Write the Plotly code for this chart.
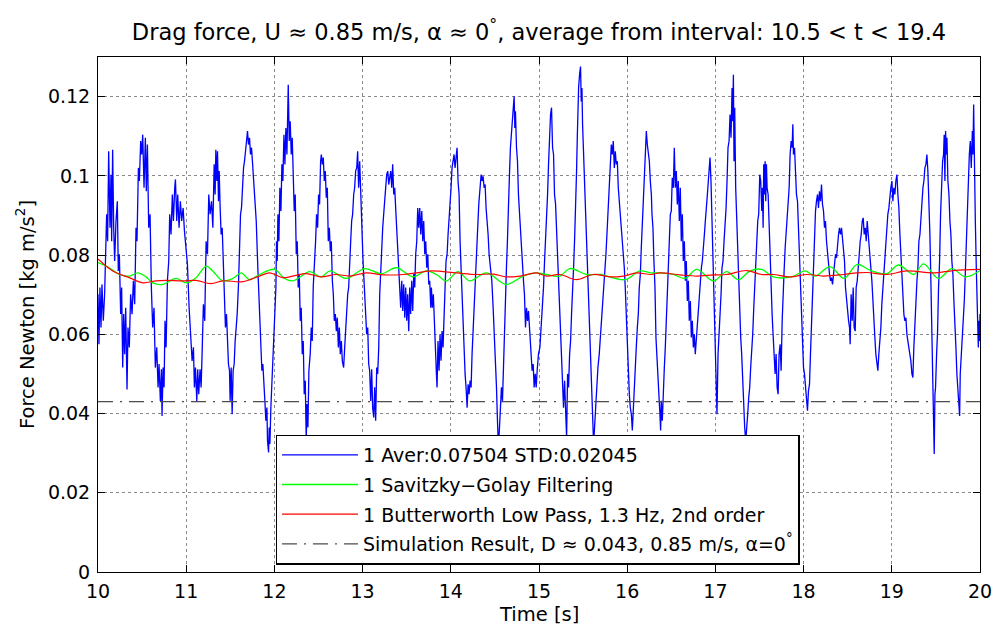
import plotly.graph_objects as go

# Measured drag force, sampled signal (time [s], force [N]) in consecutive windows
SEG_10_11 = [
    (10.000, 0.0701), (10.011, 0.0575), (10.022, 0.0718), (10.034, 0.0617), (10.045, 0.0726),
    (10.060, 0.0634), (10.075, 0.0701), (10.091, 0.0877), (10.098, 0.0903), (10.109, 0.0835),
    (10.121, 0.1062), (10.136, 0.0869), (10.147, 0.1003), (10.155, 0.0835), (10.166, 0.1066),
    (10.178, 0.0869), (10.189, 0.0785), (10.204, 0.0886), (10.219, 0.0936), (10.230, 0.0760),
    (10.242, 0.0802), (10.257, 0.0651), (10.268, 0.0718), (10.280, 0.0516), (10.291, 0.0651),
    (10.302, 0.0550), (10.314, 0.0667), (10.329, 0.0461), (10.340, 0.0617), (10.355, 0.0567),
    (10.370, 0.0701), (10.386, 0.0651), (10.401, 0.0735), (10.416, 0.0676), (10.431, 0.0869),
    (10.442, 0.0835), (10.458, 0.1020), (10.469, 0.0987), (10.484, 0.1088), (10.495, 0.1054),
    (10.507, 0.1104), (10.522, 0.0970), (10.537, 0.1096), (10.548, 0.0961), (10.560, 0.1079),
    (10.575, 0.0869), (10.590, 0.0903), (10.605, 0.0718), (10.620, 0.0617), (10.635, 0.0667),
    (10.650, 0.0516), (10.666, 0.0567), (10.681, 0.0466), (10.692, 0.0525), (10.707, 0.0431),
    (10.719, 0.0512), (10.726, 0.0394), (10.738, 0.0516), (10.749, 0.0466), (10.760, 0.0634),
    (10.772, 0.0567), (10.787, 0.0735), (10.802, 0.0785), (10.813, 0.0903), (10.828, 0.0852),
    (10.843, 0.0953), (10.855, 0.0886), (10.870, 0.0970), (10.878, 0.0991), (10.893, 0.0886),
    (10.904, 0.0953), (10.919, 0.0869), (10.934, 0.0936), (10.949, 0.0886), (10.965, 0.0919),
    (10.980, 0.0861), (10.999, 0.0802), (11.014, 0.0777), (11.033, 0.0667), (11.052, 0.0592),
    (11.067, 0.0533), (11.082, 0.0567), (11.093, 0.0466), (11.105, 0.0516), (11.120, 0.0432),
    (11.131, 0.0512), (11.142, 0.0449), (11.157, 0.0512), (11.169, 0.0466), (11.180, 0.0550),
    (11.195, 0.0676), (11.210, 0.0634), (11.226, 0.0835), (11.241, 0.0802), (11.256, 0.0953),
    (11.271, 0.0903),
]

SEG_11_12 = [
    (11.287, 0.0936), (11.302, 0.0869), (11.317, 0.1029), (11.328, 0.0953), (11.336, 0.1066),
    (11.347, 0.0987), (11.355, 0.1062), (11.366, 0.0936), (11.374, 0.1012), (11.385, 0.0919),
    (11.396, 0.0852), (11.408, 0.0869), (11.419, 0.0785), (11.430, 0.0718), (11.445, 0.0617),
    (11.457, 0.0651), (11.468, 0.0550), (11.479, 0.0525), (11.491, 0.0508), (11.498, 0.0432),
    (11.510, 0.0516), (11.521, 0.0398), (11.532, 0.0508), (11.544, 0.0525), (11.555, 0.0583),
    (11.567, 0.0617), (11.578, 0.0651), (11.593, 0.0726), (11.604, 0.0802), (11.616, 0.0903),
    (11.627, 0.0919), (11.638, 0.0970), (11.650, 0.1020), (11.661, 0.1037), (11.672, 0.1071),
    (11.684, 0.1088), (11.695, 0.1113), (11.706, 0.1079), (11.718, 0.1096), (11.729, 0.1054),
    (11.741, 0.1071), (11.756, 0.1012), (11.775, 0.0945), (11.794, 0.0886), (11.812, 0.0768),
    (11.831, 0.0650), (11.846, 0.0592), (11.858, 0.0508), (11.869, 0.0525), (11.881, 0.0457),
    (11.892, 0.0432), (11.903, 0.0382), (11.915, 0.0415), (11.922, 0.0331), (11.934, 0.0302),
    (11.941, 0.0365), (11.949, 0.0323), (11.960, 0.0415), (11.975, 0.0508), (11.990, 0.0567),
    (12.005, 0.0651), (12.017, 0.0718), (12.024, 0.0835), (12.032, 0.0785), (12.040, 0.0903),
    (12.051, 0.0835), (12.062, 0.0970), (12.074, 0.0911), (12.085, 0.1029), (12.096, 0.0987),
    (12.108, 0.1104), (12.119, 0.1029), (12.130, 0.1121), (12.142, 0.1054), (12.157, 0.1230),
    (12.168, 0.1088), (12.179, 0.1138), (12.191, 0.1054), (12.202, 0.1096), (12.213, 0.0987),
    (12.225, 0.0911), (12.236, 0.0953), (12.248, 0.0802), (12.259, 0.0835), (12.270, 0.0718),
    (12.282, 0.0752), (12.293, 0.0634), (12.304, 0.0667), (12.316, 0.0550), (12.327, 0.0583),
    (12.338, 0.0449), (12.350, 0.0483), (12.361, 0.0330), (12.369, 0.0424), (12.380, 0.0365),
    (12.391, 0.0508), (12.406, 0.0550), (12.418, 0.0617), (12.429, 0.0583), (12.440, 0.0718),
    (12.455, 0.0768), (12.467, 0.0835), (12.478, 0.0903), (12.490, 0.0869), (12.501, 0.0953),
    (12.512, 0.0928), (12.524, 0.1037),
]

SEG_12_13 = [
    (12.532, 0.1054), (12.543, 0.1029), (12.554, 0.1046), (12.566, 0.0987), (12.577, 0.1012),
    (12.588, 0.0945), (12.600, 0.0970), (12.611, 0.0835), (12.623, 0.0869), (12.634, 0.0810),
    (12.645, 0.0835), (12.657, 0.0735), (12.668, 0.0701), (12.679, 0.0634), (12.691, 0.0651),
    (12.702, 0.0608), (12.713, 0.0642), (12.725, 0.0567), (12.736, 0.0617), (12.747, 0.0550),
    (12.759, 0.0583), (12.770, 0.0533), (12.785, 0.0516), (12.797, 0.0567), (12.808, 0.0617),
    (12.819, 0.0634), (12.831, 0.0701), (12.842, 0.0718), (12.853, 0.0802), (12.865, 0.0835),
    (12.876, 0.0886), (12.887, 0.0903), (12.899, 0.0953), (12.910, 0.0970), (12.921, 0.1012),
    (12.933, 0.1020), (12.944, 0.1062), (12.955, 0.0970), (12.967, 0.1037), (12.978, 0.0953),
    (12.990, 0.0869), (13.005, 0.0785), (13.020, 0.0718), (13.035, 0.0651), (13.046, 0.0600),
    (13.058, 0.0617), (13.069, 0.0525), (13.080, 0.0508), (13.092, 0.0432), (13.103, 0.0512),
    (13.114, 0.0415), (13.126, 0.0390), (13.137, 0.0466), (13.148, 0.0382), (13.160, 0.0516),
    (13.171, 0.0500), (13.183, 0.0567), (13.194, 0.0701), (13.205, 0.0768), (13.217, 0.0802),
    (13.228, 0.0869), (13.239, 0.0903), (13.251, 0.0936), (13.262, 0.0953), (13.273, 0.1003),
    (13.285, 0.1012), (13.296, 0.0978), (13.307, 0.0995), (13.319, 0.1012), (13.330, 0.0970),
    (13.341, 0.1029), (13.353, 0.0953), (13.364, 0.0970), (13.375, 0.0919), (13.387, 0.0869),
    (13.398, 0.0835), (13.409, 0.0768), (13.421, 0.0718), (13.432, 0.0667), (13.444, 0.0735),
    (13.455, 0.0659), (13.466, 0.0726), (13.478, 0.0642), (13.489, 0.0718), (13.500, 0.0634),
    (13.511, 0.0701), (13.523, 0.0608), (13.534, 0.0718), (13.545, 0.0651), (13.557, 0.0735),
    (13.568, 0.0659), (13.580, 0.0752), (13.591, 0.0718), (13.602, 0.0802), (13.614, 0.0835),
    (13.625, 0.0919), (13.636, 0.0869), (13.648, 0.0919), (13.659, 0.0852), (13.671, 0.0911),
    (13.682, 0.0835), (13.693, 0.0886), (13.705, 0.0802), (13.716, 0.0835), (13.727, 0.0768),
    (13.739, 0.0802), (13.750, 0.0726), (13.761, 0.0735), (13.773, 0.0667),
]

SEG_13_15 = [
    (13.780, 0.0718), (13.791, 0.0667), (13.802, 0.0701), (13.814, 0.0617), (13.825, 0.0567),
    (13.837, 0.0500), (13.844, 0.0466), (13.855, 0.0583), (13.867, 0.0508), (13.878, 0.0600),
    (13.889, 0.0533), (13.901, 0.0608), (13.912, 0.0567), (13.924, 0.0676), (13.935, 0.0718),
    (13.946, 0.0785), (13.958, 0.0802), (13.969, 0.0852), (13.980, 0.0886), (13.992, 0.0945),
    (14.003, 0.0970), (14.014, 0.1020), (14.026, 0.1037), (14.037, 0.1054), (14.048, 0.1020),
    (14.060, 0.1054), (14.071, 0.1071), (14.082, 0.0987), (14.094, 0.0953), (14.105, 0.0835),
    (14.116, 0.0768), (14.128, 0.0684), (14.139, 0.0617), (14.151, 0.0550), (14.162, 0.0500),
    (14.173, 0.0466), (14.185, 0.0415), (14.196, 0.0474), (14.207, 0.0449), (14.219, 0.0483),
    (14.230, 0.0466), (14.241, 0.0550), (14.257, 0.0634), (14.272, 0.0718), (14.287, 0.0802),
    (14.302, 0.0861), (14.317, 0.0928), (14.332, 0.0970), (14.344, 0.1003), (14.355, 0.0987),
    (14.366, 0.0999), (14.378, 0.0970), (14.389, 0.0978), (14.400, 0.0919), (14.412, 0.0886),
    (14.423, 0.0852), (14.434, 0.0802), (14.449, 0.0768), (14.465, 0.0735), (14.480, 0.0667),
    (14.495, 0.0600), (14.506, 0.0533), (14.518, 0.0466), (14.529, 0.0382), (14.540, 0.0315),
    (14.552, 0.0365), (14.563, 0.0424), (14.574, 0.0466), (14.586, 0.0432), (14.597, 0.0533),
    (14.608, 0.0583), (14.620, 0.0718), (14.631, 0.0768), (14.642, 0.0835), (14.654, 0.0953),
    (14.665, 0.1003), (14.676, 0.1071), (14.688, 0.1104), (14.699, 0.1138), (14.710, 0.1172),
    (14.718, 0.1201), (14.726, 0.1121), (14.733, 0.1163), (14.745, 0.1071), (14.756, 0.1037),
    (14.767, 0.0953), (14.779, 0.0903), (14.790, 0.0852), (14.801, 0.0810), (14.813, 0.0768),
    (14.824, 0.0735), (14.835, 0.0701), (14.847, 0.0617), (14.858, 0.0667), (14.870, 0.0634),
    (14.881, 0.0659), (14.892, 0.0617), (14.907, 0.0550), (14.922, 0.0508), (14.934, 0.0525),
    (14.945, 0.0466), (14.957, 0.0500), (14.968, 0.0466), (14.979, 0.0508), (14.994, 0.0550),
    (15.010, 0.0567),
]

SEG_15_16 = [
    (15.029, 0.0634), (15.040, 0.0684), (15.051, 0.0718), (15.063, 0.0785), (15.074, 0.0835),
    (15.085, 0.0903), (15.097, 0.0953), (15.108, 0.1029), (15.120, 0.1104), (15.131, 0.1155),
    (15.142, 0.1172), (15.154, 0.1071), (15.165, 0.1054), (15.176, 0.0953), (15.188, 0.0928),
    (15.199, 0.0869), (15.210, 0.0785), (15.222, 0.0718), (15.233, 0.0667), (15.244, 0.0617),
    (15.256, 0.0550), (15.267, 0.0466), (15.278, 0.0415), (15.290, 0.0483), (15.301, 0.0382),
    (15.313, 0.0340), (15.324, 0.0500), (15.335, 0.0466), (15.347, 0.0550), (15.358, 0.0583),
    (15.369, 0.0651), (15.381, 0.0701), (15.392, 0.0768), (15.403, 0.0835), (15.415, 0.0903),
    (15.426, 0.1012), (15.434, 0.1096), (15.441, 0.1172), (15.449, 0.1222), (15.460, 0.1256),
    (15.471, 0.1276), (15.479, 0.1188), (15.487, 0.1222), (15.494, 0.1130), (15.505, 0.1054),
    (15.517, 0.0987), (15.528, 0.0919), (15.540, 0.0852), (15.551, 0.0751), (15.562, 0.0667),
    (15.574, 0.0583), (15.585, 0.0500), (15.596, 0.0424), (15.608, 0.0365), (15.619, 0.0323),
    (15.630, 0.0365), (15.642, 0.0415), (15.653, 0.0466), (15.668, 0.0516), (15.683, 0.0550),
    (15.698, 0.0600), (15.714, 0.0634), (15.729, 0.0684), (15.744, 0.0735), (15.759, 0.0802),
    (15.774, 0.0869), (15.785, 0.0919), (15.797, 0.0987), (15.808, 0.1054), (15.820, 0.1079),
    (15.831, 0.1054), (15.842, 0.1088), (15.854, 0.1020), (15.865, 0.1062), (15.876, 0.1029),
    (15.888, 0.1037), (15.899, 0.0970), (15.910, 0.0936), (15.922, 0.0903), (15.933, 0.0886),
    (15.944, 0.0852), (15.956, 0.0802), (15.967, 0.0768), (15.978, 0.0718), (15.990, 0.0651),
    (16.001, 0.0550), (16.012, 0.0500), (16.024, 0.0449), (16.035, 0.0415), (16.047, 0.0398),
    (16.058, 0.0357), (16.069, 0.0415), (16.081, 0.0483), (16.092, 0.0550), (16.103, 0.0567),
    (16.115, 0.0617), (16.126, 0.0651), (16.137, 0.0718), (16.149, 0.0752), (16.160, 0.0819),
    (16.172, 0.0886), (16.183, 0.0953), (16.194, 0.1012), (16.206, 0.1071), (16.217, 0.1113),
    (16.228, 0.1079), (16.240, 0.1054), (16.251, 0.1037), (16.262, 0.0987), (16.274, 0.0953),
]

SEG_16_17 = [
    (16.281, 0.0903), (16.292, 0.0869), (16.303, 0.0785), (16.315, 0.0718), (16.326, 0.0592),
    (16.337, 0.0550), (16.349, 0.0500), (16.360, 0.0466), (16.371, 0.0398), (16.379, 0.0357),
    (16.386, 0.0432), (16.398, 0.0382), (16.409, 0.0483), (16.421, 0.0516), (16.432, 0.0567),
    (16.443, 0.0634), (16.455, 0.0718), (16.466, 0.0785), (16.477, 0.0835), (16.489, 0.0903),
    (16.500, 0.0911), (16.511, 0.0995), (16.523, 0.0970), (16.534, 0.1071), (16.545, 0.0970),
    (16.557, 0.1012), (16.568, 0.0928), (16.579, 0.0987), (16.591, 0.0886), (16.602, 0.0970),
    (16.613, 0.0835), (16.625, 0.0903), (16.636, 0.0785), (16.648, 0.0835), (16.659, 0.0735),
    (16.670, 0.0785), (16.682, 0.0684), (16.693, 0.0735), (16.704, 0.0634), (16.716, 0.0684),
    (16.727, 0.0592), (16.738, 0.0634), (16.750, 0.0567), (16.761, 0.0600), (16.772, 0.0550),
    (16.784, 0.0592), (16.795, 0.0608), (16.806, 0.0667), (16.818, 0.0693), (16.829, 0.0735),
    (16.841, 0.0768), (16.852, 0.0785), (16.863, 0.0835), (16.875, 0.0852), (16.886, 0.0886),
    (16.897, 0.0936), (16.909, 0.0953), (16.920, 0.0987), (16.931, 0.1029), (16.939, 0.1046),
    (16.950, 0.0987), (16.962, 0.0886), (16.973, 0.0785), (16.984, 0.0667), (16.996, 0.0592),
    (17.007, 0.0508), (17.018, 0.0398), (17.030, 0.0550), (17.041, 0.0592), (17.052, 0.0651),
    (17.064, 0.0701), (17.075, 0.0768), (17.086, 0.0785), (17.098, 0.0835), (17.109, 0.0869),
    (17.121, 0.0919), (17.132, 0.0987), (17.143, 0.1071), (17.155, 0.1088), (17.166, 0.1155),
    (17.177, 0.1096), (17.189, 0.1222), (17.196, 0.1138), (17.204, 0.1255), (17.211, 0.1037),
    (17.219, 0.1172), (17.230, 0.0970), (17.242, 0.0886), (17.253, 0.0785), (17.264, 0.0718),
    (17.276, 0.0651), (17.287, 0.0592), (17.298, 0.0550), (17.310, 0.0466), (17.321, 0.0415),
    (17.332, 0.0365), (17.344, 0.0331), (17.355, 0.0357), (17.366, 0.0398), (17.378, 0.0441),
    (17.389, 0.0466), (17.400, 0.0516), (17.412, 0.0550), (17.423, 0.0600), (17.435, 0.0667),
    (17.446, 0.0718), (17.457, 0.0802), (17.469, 0.0852), (17.480, 0.0886), (17.491, 0.0903),
    (17.503, 0.1003), (17.514, 0.0987),
]

SEG_17_18 = [
    (17.526, 0.0911), (17.533, 0.0970), (17.541, 0.0869), (17.548, 0.1029), (17.556, 0.0953),
    (17.564, 0.1037), (17.571, 0.0936), (17.579, 0.1029), (17.586, 0.0970), (17.598, 0.0953),
    (17.609, 0.0869), (17.620, 0.0785), (17.632, 0.0751), (17.643, 0.0651), (17.654, 0.0600),
    (17.666, 0.0550), (17.677, 0.0500), (17.688, 0.0550), (17.700, 0.0466), (17.711, 0.0449),
    (17.722, 0.0550), (17.734, 0.0575), (17.745, 0.0508), (17.757, 0.0634), (17.768, 0.0718),
    (17.779, 0.0760), (17.791, 0.0819), (17.802, 0.0852), (17.813, 0.0903), (17.825, 0.0936),
    (17.836, 0.0970), (17.847, 0.1054), (17.859, 0.1088), (17.870, 0.1071), (17.878, 0.1130),
    (17.885, 0.1054), (17.897, 0.1071), (17.908, 0.1012), (17.919, 0.0953), (17.931, 0.0936),
    (17.942, 0.0869), (17.953, 0.0785), (17.965, 0.0701), (17.976, 0.0634), (17.987, 0.0592),
    (17.999, 0.0516), (18.010, 0.0500), (18.021, 0.0466), (18.033, 0.0441), (18.044, 0.0407),
    (18.055, 0.0457), (18.067, 0.0474), (18.078, 0.0550), (18.090, 0.0634), (18.101, 0.0718),
    (18.112, 0.0802), (18.124, 0.0852), (18.135, 0.0911), (18.146, 0.0936), (18.158, 0.0953),
    (18.169, 0.0919), (18.180, 0.0961), (18.192, 0.0936), (18.203, 0.0978), (18.214, 0.0928),
    (18.226, 0.0911), (18.237, 0.0869), (18.248, 0.0886), (18.260, 0.0835), (18.271, 0.0802),
    (18.282, 0.0785), (18.294, 0.0751), (18.305, 0.0735), (18.316, 0.0743), (18.328, 0.0726),
    (18.339, 0.0751), (18.351, 0.0768), (18.362, 0.0802), (18.373, 0.0793), (18.385, 0.0835),
    (18.396, 0.0852), (18.407, 0.0869), (18.419, 0.0852), (18.430, 0.0869), (18.441, 0.0835),
    (18.453, 0.0819), (18.464, 0.0785), (18.475, 0.0718), (18.487, 0.0684), (18.498, 0.0667),
    (18.510, 0.0634), (18.521, 0.0617), (18.528, 0.0575), (18.539, 0.0701), (18.551, 0.0634),
    (18.562, 0.0718), (18.573, 0.0617), (18.585, 0.0608), (18.596, 0.0718), (18.608, 0.0735),
    (18.619, 0.0785), (18.631, 0.0802), (18.642, 0.0835), (18.653, 0.0852), (18.665, 0.0886),
    (18.676, 0.0894), (18.687, 0.0852), (18.699, 0.0869), (18.710, 0.0835), (18.721, 0.0886),
]

SEG_18_20 = [
    (18.774, 0.0735), (18.785, 0.0676), (18.796, 0.0634), (18.808, 0.0592), (18.819, 0.0550),
    (18.831, 0.0533), (18.842, 0.0508), (18.853, 0.0550), (18.865, 0.0583), (18.876, 0.0617),
    (18.887, 0.0676), (18.899, 0.0718), (18.910, 0.0760), (18.921, 0.0802), (18.933, 0.0835),
    (18.944, 0.0869), (18.955, 0.0903), (18.967, 0.0919), (18.978, 0.0953), (18.989, 0.0970),
    (19.001, 0.0987), (19.012, 0.0936), (19.023, 0.0970), (19.035, 0.0953), (19.046, 0.0987),
    (19.058, 0.1003), (19.069, 0.0953), (19.080, 0.0919), (19.092, 0.0852), (19.103, 0.0802),
    (19.114, 0.0735), (19.126, 0.0684), (19.137, 0.0651), (19.148, 0.0634), (19.160, 0.0642),
    (19.171, 0.0600), (19.182, 0.0583), (19.194, 0.0567), (19.205, 0.0550), (19.216, 0.0533),
    (19.228, 0.0500), (19.239, 0.0491), (19.250, 0.0567), (19.262, 0.0634), (19.273, 0.0684),
    (19.285, 0.0735), (19.296, 0.0768), (19.307, 0.0835), (19.319, 0.0852), (19.330, 0.0903),
    (19.341, 0.0936), (19.353, 0.0970), (19.364, 0.0987), (19.375, 0.1020), (19.387, 0.1029),
    (19.398, 0.1054), (19.409, 0.1012), (19.420, 0.0953), (19.432, 0.0852), (19.443, 0.0735),
    (19.455, 0.0617), (19.466, 0.0500), (19.474, 0.0415), (19.481, 0.0298), (19.489, 0.0449),
    (19.496, 0.0466), (19.508, 0.0550), (19.519, 0.0608), (19.530, 0.0718), (19.542, 0.0785),
    (19.553, 0.0903), (19.564, 0.0970), (19.576, 0.1037), (19.587, 0.1054), (19.594, 0.1104),
    (19.602, 0.0987), (19.610, 0.1113), (19.617, 0.1054), (19.625, 0.1096), (19.636, 0.0987),
    (19.648, 0.0953), (19.659, 0.0886), (19.670, 0.0852), (19.681, 0.0785), (19.693, 0.0751),
    (19.704, 0.0684), (19.716, 0.0634), (19.727, 0.0567), (19.738, 0.0500), (19.750, 0.0466),
    (19.761, 0.0415), (19.769, 0.0394), (19.776, 0.0500), (19.788, 0.0550), (19.799, 0.0567),
    (19.810, 0.0634), (19.822, 0.0684), (19.833, 0.0751), (19.844, 0.0835), (19.856, 0.0903),
    (19.867, 0.1020), (19.879, 0.1054), (19.890, 0.1088), (19.901, 0.1020), (19.913, 0.1113),
    (19.920, 0.1054), (19.928, 0.1180), (19.935, 0.1029), (19.947, 0.0886), (19.958, 0.0768),
    (19.969, 0.0651), (19.981, 0.0567), (19.988, 0.0634), (19.996, 0.0583), (20.000, 0.0651),
]

# Savitzky-Golay filtered signal
SG_T = [10.000, 10.128, 10.242, 10.355, 10.450, 10.545, 10.620, 10.734, 10.885, 11.000,
        11.112, 11.226, 11.300, 11.415, 11.529, 11.623, 11.718, 11.831, 12.000, 12.115,
        12.210, 12.400, 12.530, 12.630, 12.815, 13.024, 13.213, 13.383, 13.570, 13.723,
        13.837, 13.950, 14.083, 14.215, 14.404, 14.631, 14.820, 14.970, 15.085, 15.237,
        15.350, 15.540, 15.690, 15.975, 16.145, 16.270, 16.370, 16.523, 16.655, 16.788,
        16.977, 17.128, 17.260, 17.393, 17.525, 17.658, 17.866, 18.018, 18.130, 18.300,
        18.460, 18.604, 18.770, 18.944, 19.076, 19.247, 19.360, 19.530, 19.682, 19.833,
        20.000]
SG_F = [0.0781, 0.0768, 0.0751, 0.0747, 0.0755, 0.0745, 0.0730, 0.0726, 0.0741, 0.0730,
        0.0743, 0.0772, 0.0760, 0.0735, 0.0741, 0.0755, 0.0738, 0.0751, 0.0764, 0.0741,
        0.0735, 0.0758, 0.0745, 0.0760, 0.0741, 0.0766, 0.0753, 0.0768, 0.0745, 0.0760,
        0.0751, 0.0735, 0.0758, 0.0735, 0.0755, 0.0726, 0.0747, 0.0755, 0.0751, 0.0747,
        0.0766, 0.0751, 0.0751, 0.0738, 0.0760, 0.0755, 0.0755, 0.0751, 0.0741, 0.0764,
        0.0735, 0.0758, 0.0738, 0.0760, 0.0764, 0.0745, 0.0745, 0.0760, 0.0747, 0.0771,
        0.0741, 0.0776, 0.0760, 0.0753, 0.0775, 0.0751, 0.0778, 0.0741, 0.0766, 0.0745,
        0.0761]

# Butterworth low-pass (1.3 Hz, 2nd order) filtered signal
BW_T = [10.000, 10.166, 10.355, 10.507, 10.658, 10.772, 10.960, 11.112, 11.280, 11.415,
        11.642, 11.831, 11.945, 12.096, 12.210, 12.361, 12.530, 12.700, 12.853, 13.042,
        13.232, 13.459, 13.610, 13.780, 14.064, 14.291, 14.480, 14.631, 14.783, 14.970,
        15.085, 15.237, 15.426, 15.615, 15.804, 15.956, 16.107, 16.270, 16.371, 16.598,
        16.788, 16.977, 17.128, 17.355, 17.520, 17.658, 17.847, 18.037, 18.226, 18.453,
        18.604, 18.717, 18.944, 19.171, 19.474, 19.700, 20.000]
BW_F = [0.0790, 0.0760, 0.0743, 0.0730, 0.0735, 0.0736, 0.0735, 0.0736, 0.0728, 0.0735,
        0.0733, 0.0747, 0.0755, 0.0743, 0.0747, 0.0753, 0.0745, 0.0751, 0.0747, 0.0755,
        0.0750, 0.0751, 0.0755, 0.0760, 0.0755, 0.0751, 0.0752, 0.0745, 0.0747, 0.0755,
        0.0747, 0.0751, 0.0738, 0.0751, 0.0745, 0.0747, 0.0755, 0.0751, 0.0755, 0.0750,
        0.0747, 0.0750, 0.0751, 0.0761, 0.0751, 0.0751, 0.0745, 0.0751, 0.0747, 0.0751,
        0.0755, 0.0756, 0.0751, 0.0760, 0.0755, 0.0761, 0.0764]

# Simulated drag force
SIM_D = 0.043
SIM_T = [10, 20]

X_TICKS = [10, 11, 12, 13, 14, 15, 16, 17, 18, 19, 20]
Y_TICKS = [0, 0.02, 0.04, 0.06, 0.08, 0.1, 0.12]
Y_TICK_TEXT = ["0", "0.02", "0.04", "0.06", "0.08", "0.1", "0.12"]

segments = [SEG_10_11, SEG_11_12, SEG_12_13, SEG_13_15,
            SEG_15_16, SEG_16_17, SEG_17_18, SEG_18_20]
raw_t = [p[0] for seg in segments for p in seg]
raw_f = [p[1] for seg in segments for p in seg]

FONT = "DejaVu Sans, Liberation Sans, Arial, sans-serif"

fig = go.Figure()
fig.add_trace(go.Scatter(
    x=raw_t, y=raw_f, mode="lines", legendgroup="raw",
    line=dict(color="#0000ff", width=1.3),
    name="1 Aver:0.07504 STD:0.02045"))
fig.add_trace(go.Scatter(
    x=SG_T, y=SG_F, mode="lines", line_shape="spline", legendgroup="sg",
    line=dict(color="#00ff00", width=1.3),
    name="1 Savitzky\u2212Golay Filtering"))
fig.add_trace(go.Scatter(
    x=BW_T, y=BW_F, mode="lines", line_shape="spline", legendgroup="bw",
    line=dict(color="#ff0000", width=1.2),
    name="1 Butterworth Low Pass, 1.3 Hz, 2nd order"))
fig.add_trace(go.Scatter(
    x=SIM_T, y=[SIM_D] * len(SIM_T), mode="lines", legendgroup="sim",
    line=dict(color="#4d4d4d", width=1.3, dash="15px,7px,2px,7px"),
    name="Simulation Result, D \u2248 0.043, 0.85 m/s, \u03b1=0<sup>\u00b0</sup>"))

axis_common = dict(
    showline=True, linecolor="black", linewidth=1, mirror="ticks",
    ticks="inside", ticklen=7, tickcolor="black", tickwidth=1,
    showgrid=True, gridcolor="#8a8a8a", griddash="dot", gridwidth=1,
    zeroline=False, automargin=False,
    tickfont=dict(family=FONT, size=19, color="black"),
)

fig.update_layout(
    width=994, height=630,
    margin=dict(l=98, r=14, t=57, b=58),
    paper_bgcolor="white", plot_bgcolor="white",
    font=dict(family=FONT, size=19, color="black"),
    title=dict(
        text="Drag force, U \u2248 0.85 m/s, \u03b1 \u2248 0<sup>\u00b0</sup>, average from interval: 10.5 < t < 19.4",
        x=0.5, xref="paper", y=1 - 32 / 630, yref="container",
        xanchor="center", yanchor="middle",
        font=dict(family=FONT, size=22.5, color="black")),
    xaxis=dict(range=[10, 20], tickvals=X_TICKS, ticklabelstandoff=2, **axis_common),
    yaxis=dict(range=[0, 0.13], tickvals=Y_TICKS, ticktext=Y_TICK_TEXT, ticklabelstandoff=3,
               title=dict(text="Force Newton [kg m/s<sup>2</sup>]",
                          font=dict(family=FONT, size=19.5), standoff=8),
               **axis_common),
    annotations=[dict(text="Time [s]", x=0.5, xref="paper", y=-0.0824, yref="paper",
                      xanchor="center", yanchor="middle", showarrow=False,
                      font=dict(family=FONT, size=19.5, color="black"))],
    legend=dict(x=0.2015, y=0.2667, xanchor="left", yanchor="top",
                xref="paper", yref="paper",
                bgcolor="white", bordercolor="black", borderwidth=1.3,
                font=dict(family=FONT, size=19, color="black"),
                itemwidth=76, tracegroupgap=2),
    showlegend=True,
)

fig.write_html("out.html")
